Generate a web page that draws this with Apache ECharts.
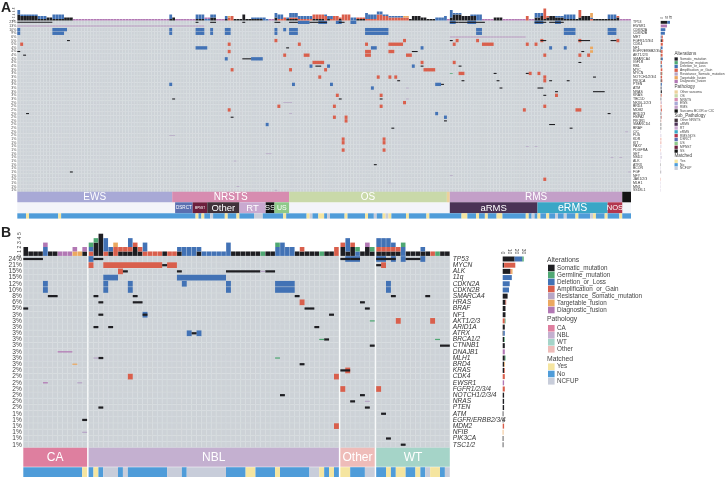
<!DOCTYPE html>
<html><head><meta charset="utf-8">
<style>html,body{margin:0;padding:0;background:#fff}#c{width:728px;height:477px}</style>
<script src="https://cdn.jsdelivr.net/npm/echarts@6/dist/echarts.min.js"></script>
</head><body><div id="c"></div>
<script>
// ---------- DATA ----------
const genesA=["TP53","EWSR1","CDKN2A","CDKN2B","MET","FGFR1/2/3/4","CDK4","NF1","EGFR/ERBB2/3/4","AKT1/2/3","SMARCA4","IGF1R","RB1","MYC","MYCN","NOTCH1/2/3/4","PIK3CA","PTEN","ATM","NRAS","KRAS","TBC1D","NKX6-1/2/3","BRD4","MDM2","BRD2/3","HSPA2","PIK3R1","SMARCD4","BRAF","CIC","FUS","KDR","KIT","PAX7","PDGFRA","SET","NSD2","ALK","ATRX","BCOR","FGF","NFY","JAK1/2/3","MLH1","MN1","SS18L1"];
const pctA=["23%","13%","10%","9%","6%","5%","5%","4%","4%","4%","4%","4%","4%","3%","3%","3%","3%","3%","3%","3%","3%","3%","2%","2%","2%","2%","2%","2%","2%","2%","2%","2%","1%","1%","1%","1%","1%","1%","1%","1%","1%","1%","1%","1%","1%","1%","1%"];
const genesB=["TP53","MYCN","ALK","11q","CDKN2A","CDKN2B","SMARCA4","HRAS","BRAF","NF1","AKT1/2/3","ARID1A","ATRX","BRCA1/2","CTNNB1","DNAJB1","MLH1","BRD4","KRAS","CDK4","EWSR1","FGFR1/2/3/4","NOTCH1/2/3/4","NRAS","PTEN","ATM","EGFR/ERBB2/3/4","MDM2","NFIB","PIK3CA","TSC1/2"];
const pctB=["24%","21%","15%","15%","12%","10%","8%","6%","5%","3%","3%","3%","3%","3%","3%","3%","3%","3%","2%","2%","2%","2%","2%","2%","2%","1%","1%","1%","1%","1%","1%"];
// alterations as [row, first column, number of columns]
const aSomatic=[[0,0,12],[0,61,1],[0,66,2],[0,77,1],[0,88,2],[0,93,3],[0,100,3],[0,103,3],[0,110,2],[0,148,3],[0,151,9],[0,177,4],[0,182,2],[0,184,3],[5,17,1],[7,92,1],[8,0,1],[9,2,1],[10,77,3],[12,102,2],[21,53,1],[21,110,1],[25,3,1],[26,73,1],[41,18,1],[5,148,1],[5,179,2],[5,192,4],[5,203,2],[8,135,2],[8,193,1],[11,192,1],[12,138,1],[12,151,1],[14,163,1],[14,174,1],[15,197,1],[16,130,1],[16,152,1],[16,164,1],[16,182,1],[16,188,1],[17,145,1],[18,165,1],[18,178,2],[19,184,1],[19,197,4],[20,180,1],[21,124,1],[25,202,1],[27,146,1],[28,182,2],[29,128,1],[29,189,1],[39,122,1]];
const aDeletion=[[2,0,1],[3,0,1],[2,12,5],[3,12,4],[2,52,1],[3,52,1],[2,61,3],[3,61,3],[2,66,1],[3,66,1],[2,71,2],[3,71,2],[2,88,1],[3,88,1],[2,91,1],[2,93,3],[3,93,3],[2,119,8],[3,119,8],[2,157,2],[3,157,2],[2,187,4],[3,187,4],[2,202,3],[3,202,3],[7,61,4],[10,71,1],[10,80,4],[12,100,1],[12,106,1],[17,52,1],[17,94,1],[17,107,1],[28,85,1],[7,121,2],[7,138,1],[7,182,1],[7,187,1],[12,135,1],[17,143,2],[18,121,1],[25,143,1],[26,146,1],[0,96,4],[0,103,3],[0,109,2],[0,114,2],[0,148,2],[0,154,3],[0,177,3],[0,184,2]];
const aAmp=[[6,1,1],[6,72,1],[6,96,1],[5,88,1],[8,72,1],[9,91,1],[9,98,2],[11,101,4],[13,73,1],[13,93,1],[13,105,1],[15,103,1],[20,109,1],[23,89,1],[23,108,1],[24,72,1],[26,108,1],[26,112,1],[27,112,1],[32,111,1],[33,111,1],[35,111,1],[5,132,1],[5,150,1],[5,157,1],[5,179,1],[5,192,1],[5,205,1],[6,119,1],[6,127,5],[6,149,1],[6,159,4],[6,174,1],[6,177,1],[8,119,2],[8,127,2],[9,119,2],[9,133,2],[9,180,1],[9,192,1],[9,195,1],[11,138,1],[11,149,1],[13,139,4],[14,151,2],[14,175,1],[14,178,1],[15,123,1],[15,127,1],[15,129,1],[15,180,1],[16,180,1],[20,124,1],[20,184,1],[22,132,1],[23,124,1],[23,180,1],[24,173,1],[24,191,2],[32,125,1],[33,125,1],[35,125,1],[43,180,1]];
const aGermline=[[14,148,1]];
const aResist=[[22,91,3],[25,93,1],[31,52,2],[36,85,2],[38,74,1],[45,75,1],[46,88,1],[18,133,1],[21,133,1],[30,208,1],[34,174,1],[34,177,1],[37,203,1],[37,206,1],[42,148,1],[41,209,1],[44,127,1]];
const aTargetable=[[7,196,1],[8,196,1]];
const aDiagnostic=[[1,0,64],[4,148,26]];
const bSomatic=[[0,0,4],[0,14,2],[0,64,2],[0,66,2],[0,71,4],[0,77,3],[1,28,1],[1,71,1],[2,20,1],[2,31,1],[2,41,7],[2,49,2],[6,5,2],[6,14,1],[6,22,1],[6,55,1],[6,74,1],[6,81,1],[7,15,1],[7,22,2],[7,68,1],[8,0,1],[8,57,2],[8,69,1],[9,15,1],[9,24,1],[9,62,1],[11,14,1],[11,17,1],[11,59,1],[12,34,1],[13,61,1],[14,70,1],[14,84,2],[16,15,1],[17,56,1],[18,64,2],[22,52,1],[22,68,1],[23,66,1],[24,15,1],[24,69,1],[25,72,1],[26,12,1],[29,73,1],[30,76,1]];
const bDeletion=[[0,13,1],[0,65,3],[0,71,2],[0,74,1],[0,76,1],[0,80,1],[3,16,3],[3,31,10],[4,4,1],[4,16,1],[4,21,1],[4,32,1],[4,41,1],[4,51,4],[4,73,1],[5,4,1],[5,16,1],[5,21,1],[5,41,1],[5,51,4],[5,73,1],[9,24,1],[12,33,1],[12,35,1]];
const bAmp=[[1,13,1],[1,16,12],[1,29,2],[1,72,1],[2,19,1],[7,56,1],[10,75,1],[10,82,1],[18,65,1],[19,21,1],[19,63,1],[21,64,1],[21,71,1],[27,63,1]];
const bGermline=[[10,70,1],[13,60,1],[13,83,1],[16,51,1]];
const bResist=[[2,48,1],[16,14,1],[20,11,1],[23,69,1],[28,12,1]];
const bTargetable=[[17,10,1]];
const bDiagnostic=[[15,7,3],[20,4,1]];
// top-bar counts in runs: [first column, columns, somatic, amp, deletion, germline, targetable, diagnostic]
const topA=[[0,1,4,0,3],[1,6,3,0,1],[7,3,1,0,2],[10,2,2],[12,4,1,0,3],[16,3,2],[19,33,0,0,0,0,0,1],[52,1,1,0,3],[53,1,2],[54,7,0,0,0,0,0,1],[61,3,1,0,3],[64,2,0,0,1,0,0,1],[66,2,2,0,2],[68,3,0,0,0,0,0,1],[71,1,1,0,2],[72,1,0,2,0,0,1],[73,1,0,3],[74,3,1],[77,1,4],[78,2,1],[80,4,1,0,1],[84,1,0,0,2],[85,1,0,0,1],[86,2,0,0,0,0,0,1],[88,1,2,0,3],[89,2,0,1,3],[91,1,0,2],[92,1,1,0,1],[93,3,1,1,3],[96,4,0,1,2],[100,1,0,1,2],[101,4,1,3],[105,1,0,3,1],[106,1,1,0,2],[107,1,0,1,2],[108,2,0,3],[110,1,1,1],[111,3,0,4],[114,2,0,0,2],[116,3,1,1],[119,1,0,1,4],[120,3,0,1,3],[123,2,0,4,2],[125,2,0,3,1],[127,5,0,2,1],[132,2,0,2,0,0,1],[134,1,1],[135,3,3],[138,2,2],[140,3,1],[143,3,0,0,2],[146,1,0,0,3],[147,1,0,0,0,0,0,1],[148,1,2,0,5],[149,3,4,0,1],[152,3,3],[155,2,3,0,1],[157,2,0,0,4],[159,4,0,0,0,0,0,1],[163,2,2],[165,1,2],[166,8,0,0,0,0,0,1],[174,1,0,3],[175,2,0,0,0,0,0,1],[177,2,2,0,3],[179,1,3,0,2],[180,1,1,7],[181,1,2,1],[182,2,3],[184,3,2,0,1],[187,4,1,0,3],[191,1,1],[192,1,2,5],[193,3,3],[196,1,0,1,1,0,3],[197,5,1],[202,3,1,0,3],[205,1,2,1],[206,4,0,0,0,0,0,1]];
const topB=[[0,1,2],[1,3,1],[4,1,0,0,2,0,0,1],[5,2,1],[7,3,0,0,0,0,0,1],[10,1,0,0,0,0,1,1],[11,1,0,0,0,0,1],[12,1,1,0,0,0,0,1],[13,1,0,1,1,1],[14,1,3,0,0,1],[15,1,5],[16,1,0,1,3],[17,1,1,0,1],[18,1,0,2,0,0,1],[19,1,1,1],[20,1,1,1],[21,1,1,1,2],[22,1,2,1],[23,1,1,1],[24,1,0,1,2],[25,3,0,1],[28,1,1],[29,2,0,1],[31,1,1,0,1],[32,3,0,0,2],[35,1,1,0,1],[36,5,0,0,1],[41,1,0,0,3],[42,6,1],[48,1,0,0,0,1],[49,2,1],[51,1,0,0,2,1],[52,1,0,0,3],[53,2,0,0,2],[55,1,1],[56,1,1,1],[57,3,1],[60,1,0,0,0,1],[61,2,1],[63,1,0,2],[64,1,2,1],[65,1,1,0,3],[66,1,2,1],[67,1,0,0,1,1],[68,1,1],[69,1,2,0,0,0,0,1],[70,1,1,0,0,1],[71,3,1,1,2],[74,1,1,1,1],[75,1,1,1],[76,1,0,0,2,1],[77,3,1],[80,1,1,0,1],[81,1,1],[82,1,0,1],[83,1,0,0,0,1],[84,2,1]];
// gene-total bars, by gene
const rowA={Somatic_mutation:[28,0,0,0,0,5,0,1,2,1,4,1,3,0,3,1,4,1,3,5,1,2,0,0,0,2,1,1,2,2,0,0,0,0,0,0,0,0,0,1,0,1,0,0,0,0,0],
 Deletion_or_Loss:[20,0,20,18,4,0,0,7,0,0,5,0,3,0,0,0,0,4,1,0,0,0,0,0,1,0,1,0,0,0,0,0,0,0,0,0,0,0,0,0,0,0,0,0,0,0,0],
 Amplification_or_Gain:[0,0,0,0,5,6,9,0,6,7,0,4,0,7,3,5,3,0,0,0,3,0,1,3,4,0,2,1,0,0,0,0,2,2,0,1,0,0,0,0,0,0,0,1,0,0,0],
 Germline_mutation:[0,0,0,0,0,0,0,0,0,0,0,0,0,0,1,0,0,0,0,0,0,0,0,0,0,0,0,0,0,0,0,0,0,0,0,0,0,0,0,0,0,0,0,0,0,0,0],
 Resistance_Somatic_mutation:[0,0,0,0,0,0,0,0,0,0,0,0,0,0,0,0,0,0,1,0,0,1,3,0,0,1,0,0,0,0,1,2,0,0,2,0,2,3,1,0,1,1,0,0,1,1,1],
 Diagnostic_fusion:[0,27,0,0,0,0,0,0,0,0,0,0,0,0,0,0,0,0,0,0,0,0,0,0,0,0,0,0,0,0,0,0,0,0,0,0,0,0,0,0,0,0,0,0,0,0,0]};
const rowB={Somatic_mutation:[17,2,11,0,0,0,7,4,4,4,0,3,1,2,3,0,3,2,2,0,0,0,2,2,2,1,1,0,0,1,1],
 Deletion_or_Loss:[11,0,0,13,10,9,0,0,0,0,0,0,2,0,0,0,0,0,0,0,0,0,0,0,0,0,0,0,0,0,0],
 Amplification_or_Gain:[0,16,1,0,0,0,0,1,0,0,3,0,0,0,0,0,0,0,1,3,0,3,0,0,0,0,0,2,0,0,0],
 Germline_mutation:[2,0,0,0,0,0,0,0,0,0,1,0,0,1,0,0,1,0,0,0,0,0,0,0,0,0,0,0,0,0,0],
 Targetable_fusion:[0,0,2,0,0,0,0,0,0,0,0,0,0,0,0,0,0,1,0,0,0,0,0,0,0,0,0,0,1,0,0],
 Diagnostic_fusion:[0,0,0,0,0,0,0,0,0,0,0,0,0,0,0,3,0,0,0,0,2,0,0,0,0,0,0,0,0,0,0]};
// annotation strips: [label, first column, end column]
const pathA=[["EWS",0,53],["NRSTS",53,93],["OS",93,147],["",147,148],["RMS",148,207],["",207,210]];
const subA=[["DSRCT",54,60],["MPNST",60,65],["Other",65,76],["RT",76,85],["SS",85,88],["US",88,93],["aRMS",148,178],["eRMS",178,202],["NOS",202,207]];
const pathB=[["CA",0,13],["NBL",13,64],["Other",64,71],["WT",71,86]];
const yesA=[3,14,61,63,71,75,91,99,103,104,112,119,125,127,133,140,152,153,157,160,164,165,174,178,181,191,197,201,206];
const ncfupA=[66,81,82,83,100,106,122,126,176,184,187,196];
const yesB=[12,14,45,46,51,60,62,64,65,73,75,76,79,82,83];
const ncfupB=[16,17,18,20,29,30,31,33,34,35,36,37,38,39,40,58,59,69,70,81,85];
// legends
const legAlt=["Somatic_mutation","Germline_mutation","Deletion_or_Loss","Amplification_or_Gain","Resistance_Somatic_mutation","Targetable_fusion","Diagnostic_fusion"];
const legPathA=["Other sarcoma","OS","NRSTS","EWS","RMS","Sarcoma BCOR or CIC"];
const legSubA=["Other NRSTS","aRMS","RT","eRMS","RMS NOS","DSRCT","US","MPNST","SS"];
const legPathB=["CA","NBL","WT","Other"];
const legMatched=["Yes","No","NCFUP"];

// ---------- STYLE ----------
const COL={Somatic_mutation:"#1e1e22",Germline_mutation:"#4fa873",Deletion_or_Loss:"#4272b5",Amplification_or_Gain:"#d95f4c",Resistance_Somatic_mutation:"#b7a6c6",Targetable_fusion:"#eba860",Diagnostic_fusion:"#b278b4"};
const PATH={"Other sarcoma":"#ecd19b",OS:"#c9d9a9",NRSTS:"#d78cb0",EWS:"#a8a9d6",RMS:"#c39fc8","Sarcoma BCOR or CIC":"#141414",
 "Other NRSTS":"#40323a",aRMS:"#4b3356",RT:"#c9a9d0",eRMS:"#3aa6c6","RMS NOS":"#b3364e",DSRCT:"#5a6fb0",US:"#8ec98a",MPNST:"#6d1f3c",SS:"#141414",
 CA:"#de7f9f",NBL:"#c4b0d0",WT:"#a5d4c8",Other:"#eebcb9",Yes:"#f5e5a0",No:"#4f9cd9",NCFUP:"#c8cdda"};
const SUBCOL={DSRCT:"DSRCT",MPNST:"MPNST",Other:"Other NRSTS",RT:"RT",SS:"SS",US:"US",aRMS:"aRMS",eRMS:"eRMS",NOS:"RMS NOS"};
const FS={EWS:10,NRSTS:10,OS:10,RMS:10,DSRCT:4.6,MPNST:3,Other:9.5,RT:9.5,SS:8,US:7,aRMS:9.5,eRMS:10.5,NOS:7.5,CA:12,NBL:12,WT:12};
const FONT='"Liberation Sans",Arial,sans-serif';
const TYPES=["Somatic_mutation","Amplification_or_Gain","Deletion_or_Loss","Germline_mutation","Targetable_fusion","Diagnostic_fusion"];

// ---------- BUILD ----------
const grid=[],xAxis=[],yAxis=[],series=[];
const hiddenY=(g,cats,extra)=>Object.assign({gridIndex:g,type:'category',data:cats,inverse:true,show:false},extra||{});
function addGrid(left,top,width,height,x,y){const g=grid.length;grid.push({left,top,width,height});
 const xi=xAxis.length;xAxis.push(Object.assign({gridIndex:g,type:'value',show:false,splitLine:{show:false}},x));
 const yi=yAxis.length;(Array.isArray(y)?y:[y]).forEach(a=>yAxis.push(Object.assign({gridIndex:g},a)));
 return {g,xi,yi};}
const base={type:'custom',silent:true,clip:false,progressive:0,animation:false};
function cellSeries(ax,data,color,hFrac,op,wFrac){series.push(Object.assign({},base,{xAxisIndex:ax.xi,yAxisIndex:ax.yi,data,encode:{x:0,y:1},
 renderItem:(p,api)=>{const c=api.coord([api.value(0),api.value(1)]),e=api.coord([api.value(0)+api.value(2),api.value(1)]);
  const h=api.size([0,1])[1]*hFrac;const w=e[0]-c[0];const wf=wFrac||1;
  return {type:'rect',shape:{x:c[0]+w*(1-wf)/2,y:c[1]-h/2,width:w*wf,height:h},style:{fill:color,opacity:op==null?1:op}};}}));}
function bgSeries(ax,cols,rows,xf){const d=[];cols.forEach(c=>{for(let r=0;r<rows;r++)d.push([xf(c),r,1]);});
 series.push(Object.assign({},base,{xAxisIndex:ax.xi,yAxisIndex:ax.yi,data:d,encode:{x:0,y:1},
 renderItem:(p,api)=>{const c=api.coord([api.value(0),api.value(1)]),e=api.coord([api.value(0)+1,api.value(1)]);const h=api.size([0,1])[1];
  return {type:'rect',shape:{x:c[0],y:c[1]-h/2,width:e[0]-c[0],height:h},style:{fill:'#cdd2d7',stroke:'#dadee1',lineWidth:0.35}};}}));}
function topSeries(ax,runs,xf){const d=[];runs.forEach(r=>{for(let i=0;i<r[1];i++){let s=0;TYPES.forEach((t,k)=>{const v=r[2+k]||0;if(v){d.push([xf(r[0]+i),s,s+v,k]);s+=v;}});}});
 series.push(Object.assign({},base,{xAxisIndex:ax.xi,yAxisIndex:ax.yi,data:d,encode:{x:0,y:1},
 renderItem:(p,api)=>{const a=api.coord([api.value(0),api.value(2)]),b=api.coord([api.value(0)+1,api.value(1)]);const w=b[0]-a[0];
  return {type:'rect',shape:{x:a[0]+w*0.03,y:a[1],width:w*0.94,height:b[1]-a[1]},style:{fill:COL[TYPES[api.value(3)]]}};}}));}
function barSeries(ax,rows,bw){Object.keys(rows).forEach(k=>series.push({type:'bar',silent:true,animation:false,xAxisIndex:ax.xi,yAxisIndex:ax.yi,stack:'t'+ax.g,barWidth:bw,data:rows[k],itemStyle:{color:COL[k]}}));}
function stripSeries(ax,items,colorOf,xf,labelled,fsMap){const lab=items.map(i=>i[0]);series.push(Object.assign({},base,{xAxisIndex:ax.xi,yAxisIndex:ax.yi,
 data:items.map((it,i)=>[xf(it[1]),0,xf(it[2]-1)+1-xf(it[1]),i]),encode:{x:0,y:1},
 renderItem:(p,api)=>{const i=api.value(3),t=lab[i];const c=api.coord([api.value(0),0]),e=api.coord([api.value(0)+api.value(2),0]);const h=api.size([0,1])[1];
  const ch=[{type:'rect',shape:{x:c[0],y:c[1]-h/2,width:e[0]-c[0],height:h},style:{fill:colorOf(items[i])}}];
  if(t&&labelled)ch.push({type:'text',style:{text:t,x:(c[0]+e[0])/2,y:c[1]+0.3,align:'center',verticalAlign:'middle',fill:'#fff',fontSize:(fsMap&&fsMap[t])||FS[t]||8,fontFamily:FONT}});
  return {type:'group',children:ch};}}));}
// consecutive columns with the same status are merged into one band, split at panel-group edges
function matchedItems(n,yes,nc,breaks){const o=[];for(let i=0;i<n;i++){const s=yes.includes(i)?"Yes":nc.includes(i)?"NCFUP":"No";const l=o[o.length-1];
  if(l&&l[0]===s&&!breaks.includes(i))l[2]=i+1;else o.push([s,i,i+1]);}return o;}

function panel(o){
 const xf=o.xf,cols=[...Array(o.n).keys()];
 const m=addGrid(o.left,o.top,o.w,o.rowH*o.genes.length,{min:0,max:o.xmax},[
  {type:'category',data:o.pct,inverse:true,position:'left',axisLine:{show:false},axisTick:{show:false},axisLabel:{interval:0,fontSize:o.pfs,color:'#444',margin:o.pm,fontFamily:FONT}},
  {type:'category',data:o.genes,inverse:true,position:'right',axisLine:{show:false},axisTick:{show:false},axisLabel:{interval:0,fontSize:o.gfs,fontStyle:o.gi,color:'#333',margin:o.gm,fontFamily:FONT}}]);
 bgSeries(m,cols,o.genes.length,xf);
 const add=(list,k,h,op,w)=>cellSeries(m,list.map(t=>[xf(t[1]),t[0],t[2]]),COL[k],h,op,w);
 add(o.d,"Deletion_or_Loss",.92);add(o.a,"Amplification_or_Gain",.92);add(o.t,"Targetable_fusion",o.thin);add(o.s,"Somatic_mutation",o.sh);
 add(o.g,"Germline_mutation",.2);add(o.r,"Resistance_Somatic_mutation",.2);add(o.f,"Diagnostic_fusion",o.fh,o.fop);
 const t=addGrid(o.left,o.top-o.topH,o.w,o.topH,{min:0,max:o.xmax},{type:'value',min:0,max:o.topMax,interval:o.topInt,splitLine:{show:false},axisLine:{show:false},axisTick:{show:false},axisLabel:{fontSize:o.tfs,color:'#444',rotate:90,margin:1.5,fontFamily:FONT}});
 topSeries(t,o.topRuns,xf);
 const b=addGrid(o.barL,o.top,o.barW,o.rowH*o.genes.length,{show:true,position:'top',min:0,max:o.barMax,interval:o.barInt,splitLine:{show:false},axisLine:{show:false},axisTick:{show:false},axisLabel:{fontSize:o.bfs,color:'#444',rotate:90,margin:1.5,fontFamily:FONT}},hiddenY(0,o.genes,{gridIndex:grid.length}));
 barSeries(b,o.rows,o.bw);
 return m;
}
const GAP=0.3;
const bx=c=>c+(c>=71?3*GAP:c>=64?2*GAP:c>=13?GAP:0);
const ax=c=>c;
panel({n:210,xf:ax,left:17.3,top:20.5,w:613.7,rowH:3.65,xmax:210,genes:genesA,pct:pctA,pfs:3.5,pm:1,gfs:3.5,gm:2,gi:'normal',sh:.3,
 s:aSomatic,d:aDeletion,a:aAmp,g:aGermline,r:aResist,t:aTargetable,f:aDiagnostic,thin:.7,fh:.3,fop:.6,
 topH:12,topMax:8,topInt:2,tfs:2.8,topRuns:topA,barL:660.7,barW:9.3,barMax:40,barInt:20,bfs:3,rows:rowA,bw:2.9});
panel({n:86,xf:bx,left:23.3,top:255.9,w:426.5,rowH:6.19,xmax:86+3*GAP,genes:genesB,pct:pctB,pfs:6.6,pm:1.5,gfs:6.6,gm:3,gi:'italic',sh:.36,
 s:bSomatic,d:bDeletion,a:bAmp,g:bGermline,r:bResist,t:bTargetable,f:bDiagnostic,thin:.2,fh:.2,fop:1,
 topH:22.2,topMax:5,topInt:1,tfs:5,topRuns:topB,barL:502.7,barW:21,barMax:30,barInt:10,bfs:5,rows:rowB,bw:5});
const strip=(l,top,w,h,xm,items,colOf,xf,lab,fsMap)=>{const s=addGrid(l,top,w,h,{min:0,max:xm},{type:'category',data:['s'],show:false});stripSeries(s,items,colOf,xf,lab,fsMap);};
// panel A strips
strip(17.3,202.3,613.7,11,210,[["",0,210]],()=>'#f3f4f9',ax,false);
strip(17.3,191.8,613.7,10.5,210,pathA,i=>i[0]?PATH[i[0]]:(i[1]===147?PATH["Other sarcoma"]:PATH["Sarcoma BCOR or CIC"]),ax,true);
strip(17.3,202.3,613.7,11,210,subA,i=>PATH[SUBCOL[i[0]]],ax,true);
strip(17.3,213.3,613.7,5.3,210,matchedItems(210,yesA,ncfupA,[]),i=>PATH[i[0]],ax,false);
// panel B strips
strip(23.3,447.8,426.5,19,86+3*GAP,pathB,i=>PATH[i[0]],bx,true,{Other:12});
strip(23.3,467.2,426.5,9.8,86+3*GAP,matchedItems(86,yesB,ncfupB,[13,64,71]),i=>PATH[i[0]],bx,false);

// legends & panel letters
const gfx=[];
const tx=(t,x,y,fs,extra)=>gfx.push({type:'text',silent:true,style:Object.assign({text:t,x,y,fontSize:fs,fill:'#444',fontFamily:FONT,verticalAlign:'middle'},extra||{})});
function legend(title,items,colOf,L){tx(title,L.x,L.ty,L.tfs);
 items.forEach((n,i)=>{const y=L.y0+i*L.step;gfx.push({type:'rect',silent:true,shape:{x:L.x+L.dx,y:y-L.sw/2,width:L.sw,height:L.sw},style:{fill:colOf(n)}});tx(n,L.x+L.dx+L.sw+L.gap,y,L.fs);});}
const LA={x:674.5,dx:0,sw:3.3,gap:2.2,tfs:4.6,fs:3.3},LB={x:547,dx:1,sw:6.6,gap:2.4,tfs:6.8,fs:6.3};
legend("Alterations",legAlt,n=>COL[n],Object.assign({ty:53.7,y0:59,step:3.75},LA));
legend("Pathology",legPathA,n=>PATH[n],Object.assign({ty:86.7,y0:92,step:3.8},LA));
legend("Sub_Pathology",legSubA,n=>PATH[n],Object.assign({ty:116,y0:120.3,step:3.85},LA));
legend("Matched",legMatched,n=>PATH[n],Object.assign({ty:156,y0:161.3,step:3.5},LA));
legend("Alterations",legAlt,n=>COL[n],Object.assign({ty:259.7,y0:268,step:7},LB));
legend("Pathology",legPathB,n=>PATH[n],Object.assign({ty:319.3,y0:328.3,step:7},LB));
legend("Matched",legMatched,n=>PATH[n],Object.assign({ty:359.3,y0:366.7,step:7.3},LB));
tx("A",1,8.5,14,{fontWeight:'bold',fill:'#222'});tx("B",1,233.5,14,{fontWeight:'bold',fill:'#222'});

const chart=echarts.init(document.getElementById('c'),null,{renderer:'canvas'});
chart.setOption({animation:false,backgroundColor:'#fff',grid,xAxis,yAxis,series,graphic:{elements:gfx}});
</script></body></html>
